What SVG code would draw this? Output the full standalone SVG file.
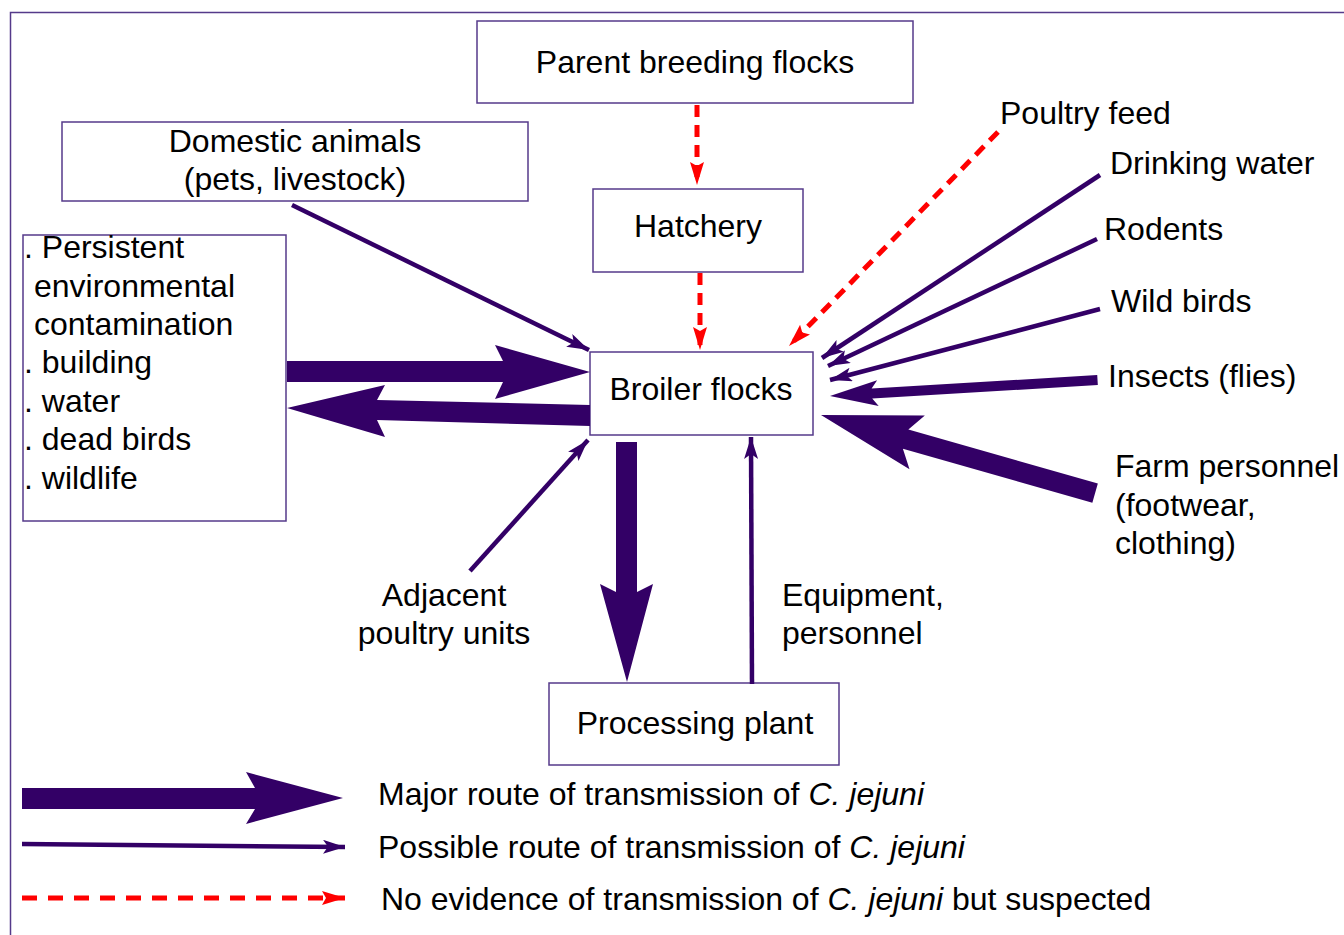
<svg xmlns="http://www.w3.org/2000/svg" width="1344" height="935" viewBox="0 0 1344 935">
<defs>
<style>
.box{fill:#fff;stroke:#553a8a;stroke-width:1.5}
text{font-family:"Liberation Sans",Arial,Helvetica,sans-serif;font-size:32px;fill:#000}
.mid{text-anchor:middle}
.thin{stroke:#330066;stroke-width:4.5;fill:none}
.red{stroke:#ff0000;stroke-width:5;fill:none;stroke-dasharray:12 8}
.thick{fill:#330066}
</style>
<marker id="mp" markerUnits="userSpaceOnUse" markerWidth="24" markerHeight="16" refX="22" refY="7" orient="auto">
<path d="M0,0 L22,7 L0,14 L5,7 z" fill="#330066"/>
</marker>
<marker id="mr" markerUnits="userSpaceOnUse" markerWidth="26" markerHeight="16" refX="23" refY="7" orient="auto">
<path d="M0,0 L23,7 L0,14 L4,7 z" fill="#ff0000"/>
</marker>
</defs>
<rect x="0" y="0" width="1344" height="935" fill="#fff"/>
<rect x="10.5" y="12.5" width="1345" height="935" fill="none" stroke="#553a8a" stroke-width="1.5"/>

<g id="parent"><rect class="box" x="477" y="21" width="436" height="82"/><text class="mid" x="695" y="73">Parent breeding flocks</text></g>
<g id="domestic"><rect class="box" x="62" y="122" width="466" height="79"/><text class="mid" x="295" y="152">Domestic animals</text><text class="mid" x="295" y="190">(pets, livestock)</text></g>
<g id="persistent"><rect class="box" x="23" y="235" width="263" height="286"/>
<text x="24" y="258">. Persistent</text>
<text x="34" y="297">environmental</text>
<text x="34" y="335">contamination</text>
<text x="24" y="373">. building</text>
<text x="24" y="412">. water</text>
<text x="24" y="450">. dead birds</text>
<text x="24" y="489">. wildlife</text></g>
<g id="hatchery"><rect class="box" x="593" y="189" width="210" height="83"/><text class="mid" x="698" y="237">Hatchery</text></g>
<g id="broiler"><rect class="box" x="590" y="352" width="223" height="83"/><text class="mid" x="701" y="400">Broiler flocks</text></g>
<g id="processing"><rect class="box" x="549" y="683" width="290" height="82"/><text class="mid" x="695" y="734">Processing plant</text></g>
<g id="poultryfeed"><text x="1000" y="124">Poultry feed</text></g>
<g id="drinkingwater"><text x="1110" y="174">Drinking water</text></g>
<g id="rodents"><text x="1104" y="240">Rodents</text></g>
<g id="wildbirds"><text x="1111" y="312">Wild birds</text></g>
<g id="insects"><text x="1108" y="387">Insects (flies)</text></g>
<g id="farmpersonnel"><text x="1115" y="477">Farm personnel</text><text x="1115" y="516">(footwear,</text><text x="1115" y="554">clothing)</text></g>
<g id="adjacent"><text class="mid" x="444" y="606">Adjacent</text><text class="mid" x="444" y="644">poultry units</text></g>
<g id="equipment"><text x="782" y="606">Equipment,</text><text x="782" y="644">personnel</text></g>

<g id="connectors">
<line class="red" x1="697" y1="105" x2="697" y2="185" marker-end="url(#mr)"/>
<line class="red" x1="700" y1="273" x2="700" y2="350" marker-end="url(#mr)"/>
<line class="red" x1="998" y1="132" x2="789" y2="346" marker-end="url(#mr)"/>
<line class="thin" x1="292" y1="205" x2="589" y2="350" marker-end="url(#mp)"/>
<line class="thin" x1="1100" y1="175" x2="822" y2="358" marker-end="url(#mp)"/>
<line class="thin" x1="1097" y1="239" x2="828" y2="366" marker-end="url(#mp)"/>
<line class="thin" x1="1100" y1="309" x2="830" y2="380" marker-end="url(#mp)"/>
<line class="thin" x1="470" y1="571" x2="588" y2="440" marker-end="url(#mp)"/>
<line class="thin" x1="752" y1="684" x2="751" y2="437" marker-end="url(#mp)"/>
<polygon class="thick" transform="translate(830,396) rotate(-3.42)" points="0,0 48,-13 42,-5 268,-5 268,5 42,5 48,13"/>
<polygon class="thick" transform="translate(821,415) rotate(15.9)" points="0,0 100,-28 88,-10 285,-10 285,10 88,10 100,28"/>
<polygon class="thick" points="590,372 495,345 503,361 287,361 287,382 503,382 495,399"/>
<polygon class="thick" points="287,408 385,385 377,400 590,405 590,426 377,420 385,437"/>
<polygon class="thick" points="627,682 600,584 616,592 616,442 637,442 637,592 653,584"/>
</g>

<g id="legend">
<polygon class="thick" points="22,788 255,788 246,772 343,798 246,824 255,809 22,809"/>
<line class="thin" x1="22" y1="844" x2="345" y2="847" marker-end="url(#mp)"/>
<line class="red" style="stroke-dasharray:15 11" x1="22" y1="898" x2="345" y2="898" marker-end="url(#mr)"/>
<text x="378" y="805">Major route of transmission of <tspan font-style="italic">C. jejuni</tspan></text>
<text x="378" y="858">Possible route of transmission of <tspan font-style="italic">C. jejuni</tspan></text>
<text x="381" y="910">No evidence of transmission of <tspan font-style="italic">C. jejuni</tspan> but suspected</text>
</g>
</svg>
